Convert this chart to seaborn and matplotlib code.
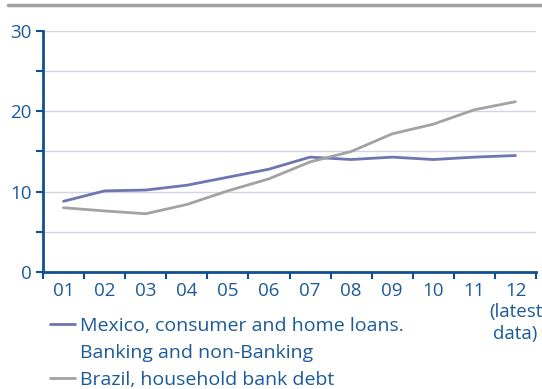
import numpy as np
import pandas as pd
import matplotlib
matplotlib.use('Agg')
import matplotlib.pyplot as plt
from matplotlib.lines import Line2D
import seaborn as sns

# Datos (% del PIB aprox.)
YEARS = ['01', '02', '03', '04', '05', '06', '07', '08', '09', '10', '11', '12\n(latest\ndata)']
MEXICO = [8.8, 10.1, 10.2, 10.8, 11.8, 12.8, 14.3, 14.0, 14.3, 14.0, 14.3, 14.5]
BRAZIL = [8.0, 7.6, 7.25, 8.4, 10.1, 11.6, 13.7, 15.0, 17.2, 18.4, 20.2, 21.2]
LABEL_MX = 'Mexico, consumer and home loans.'
LABEL_MX_2 = 'Banking and non-Banking'
LABEL_BR = 'Brazil, household bank debt'

TEXT_COLOR = '#1b5a9a'
AXIS_COLOR = '#0f4f92'
GRID_COLOR = '#d3d3e3'
MX_COLOR = '#6d75b3'
BR_COLOR = '#a2a2a2'

sns.set_style('white')
plt.rcParams['font.family'] = ['Open Sans', 'DejaVu Sans']

df = pd.DataFrame({
    'pos': list(range(len(YEARS))) * 2,
    'value': MEXICO + BRAZIL,
    'serie': [LABEL_MX] * len(YEARS) + [LABEL_BR] * len(YEARS),
})

fig = plt.figure(figsize=(5.42, 3.89), dpi=100)
ax = fig.add_axes([0.0793, 0.3008, 0.9097, 0.6195])

sns.lineplot(data=df, x='pos', y='value', hue='serie',
             palette={LABEL_MX: MX_COLOR, LABEL_BR: BR_COLOR},
             linewidth=2.0, ax=ax, legend=False)

# linea gris superior
fig.add_artist(Line2D([0.015, 1.0], [0.987, 0.987], transform=fig.transFigure,
                      color='#a0a0a0', linewidth=2.5))

ax.set_xlim(-0.5, len(YEARS) - 0.5)
ax.set_ylim(0, 30)
ax.set_xlabel('')
ax.set_ylabel('')

# eje Y
ax.set_yticks([0, 10, 20, 30])
ax.set_yticks([5, 15, 25], minor=True)
ax.grid(False)
for v in [5, 10, 15, 20, 25, 30]:
    ax.axhline(v, color=GRID_COLOR, linewidth=1.0, zorder=0)

# eje X: marcas entre categorías, etiquetas centradas
ax.set_xticks(np.arange(-0.5, len(YEARS), 1.0))
ax.set_xticklabels([])
ax.set_xticks(np.arange(len(YEARS)), minor=True)
ax.set_xticklabels(YEARS, minor=True, linespacing=1.25)

ax.tick_params(axis='y', which='both', direction='out', length=5, width=1.5,
               color=AXIS_COLOR, labelcolor=TEXT_COLOR, labelsize=13.5, pad=3, left=True)
ax.tick_params(axis='x', which='major', direction='out', length=5, width=1.5,
               color=AXIS_COLOR, bottom=True)
ax.tick_params(axis='x', which='minor', length=0, labelcolor=TEXT_COLOR,
               labelsize=13.5, pad=7)

for side in ['top', 'right']:
    ax.spines[side].set_visible(False)
for side in ['left', 'bottom']:
    ax.spines[side].set_color(AXIS_COLOR)
    ax.spines[side].set_linewidth(2.0)

handles = [Line2D([], [], color=MX_COLOR, linewidth=2.0),
           Line2D([], [], color='none'),
           Line2D([], [], color=BR_COLOR, linewidth=2.0)]
leg = fig.legend(handles, [LABEL_MX, LABEL_MX_2, LABEL_BR], loc='upper left',
                 bbox_to_anchor=(0.092, 0.185), frameon=False, fontsize=14,
                 handlelength=1.3, handletextpad=0.26, labelspacing=0.45,
                 borderpad=0, borderaxespad=0)
for t in leg.get_texts():
    t.set_color(TEXT_COLOR)

fig.savefig('out.png', dpi=100)
